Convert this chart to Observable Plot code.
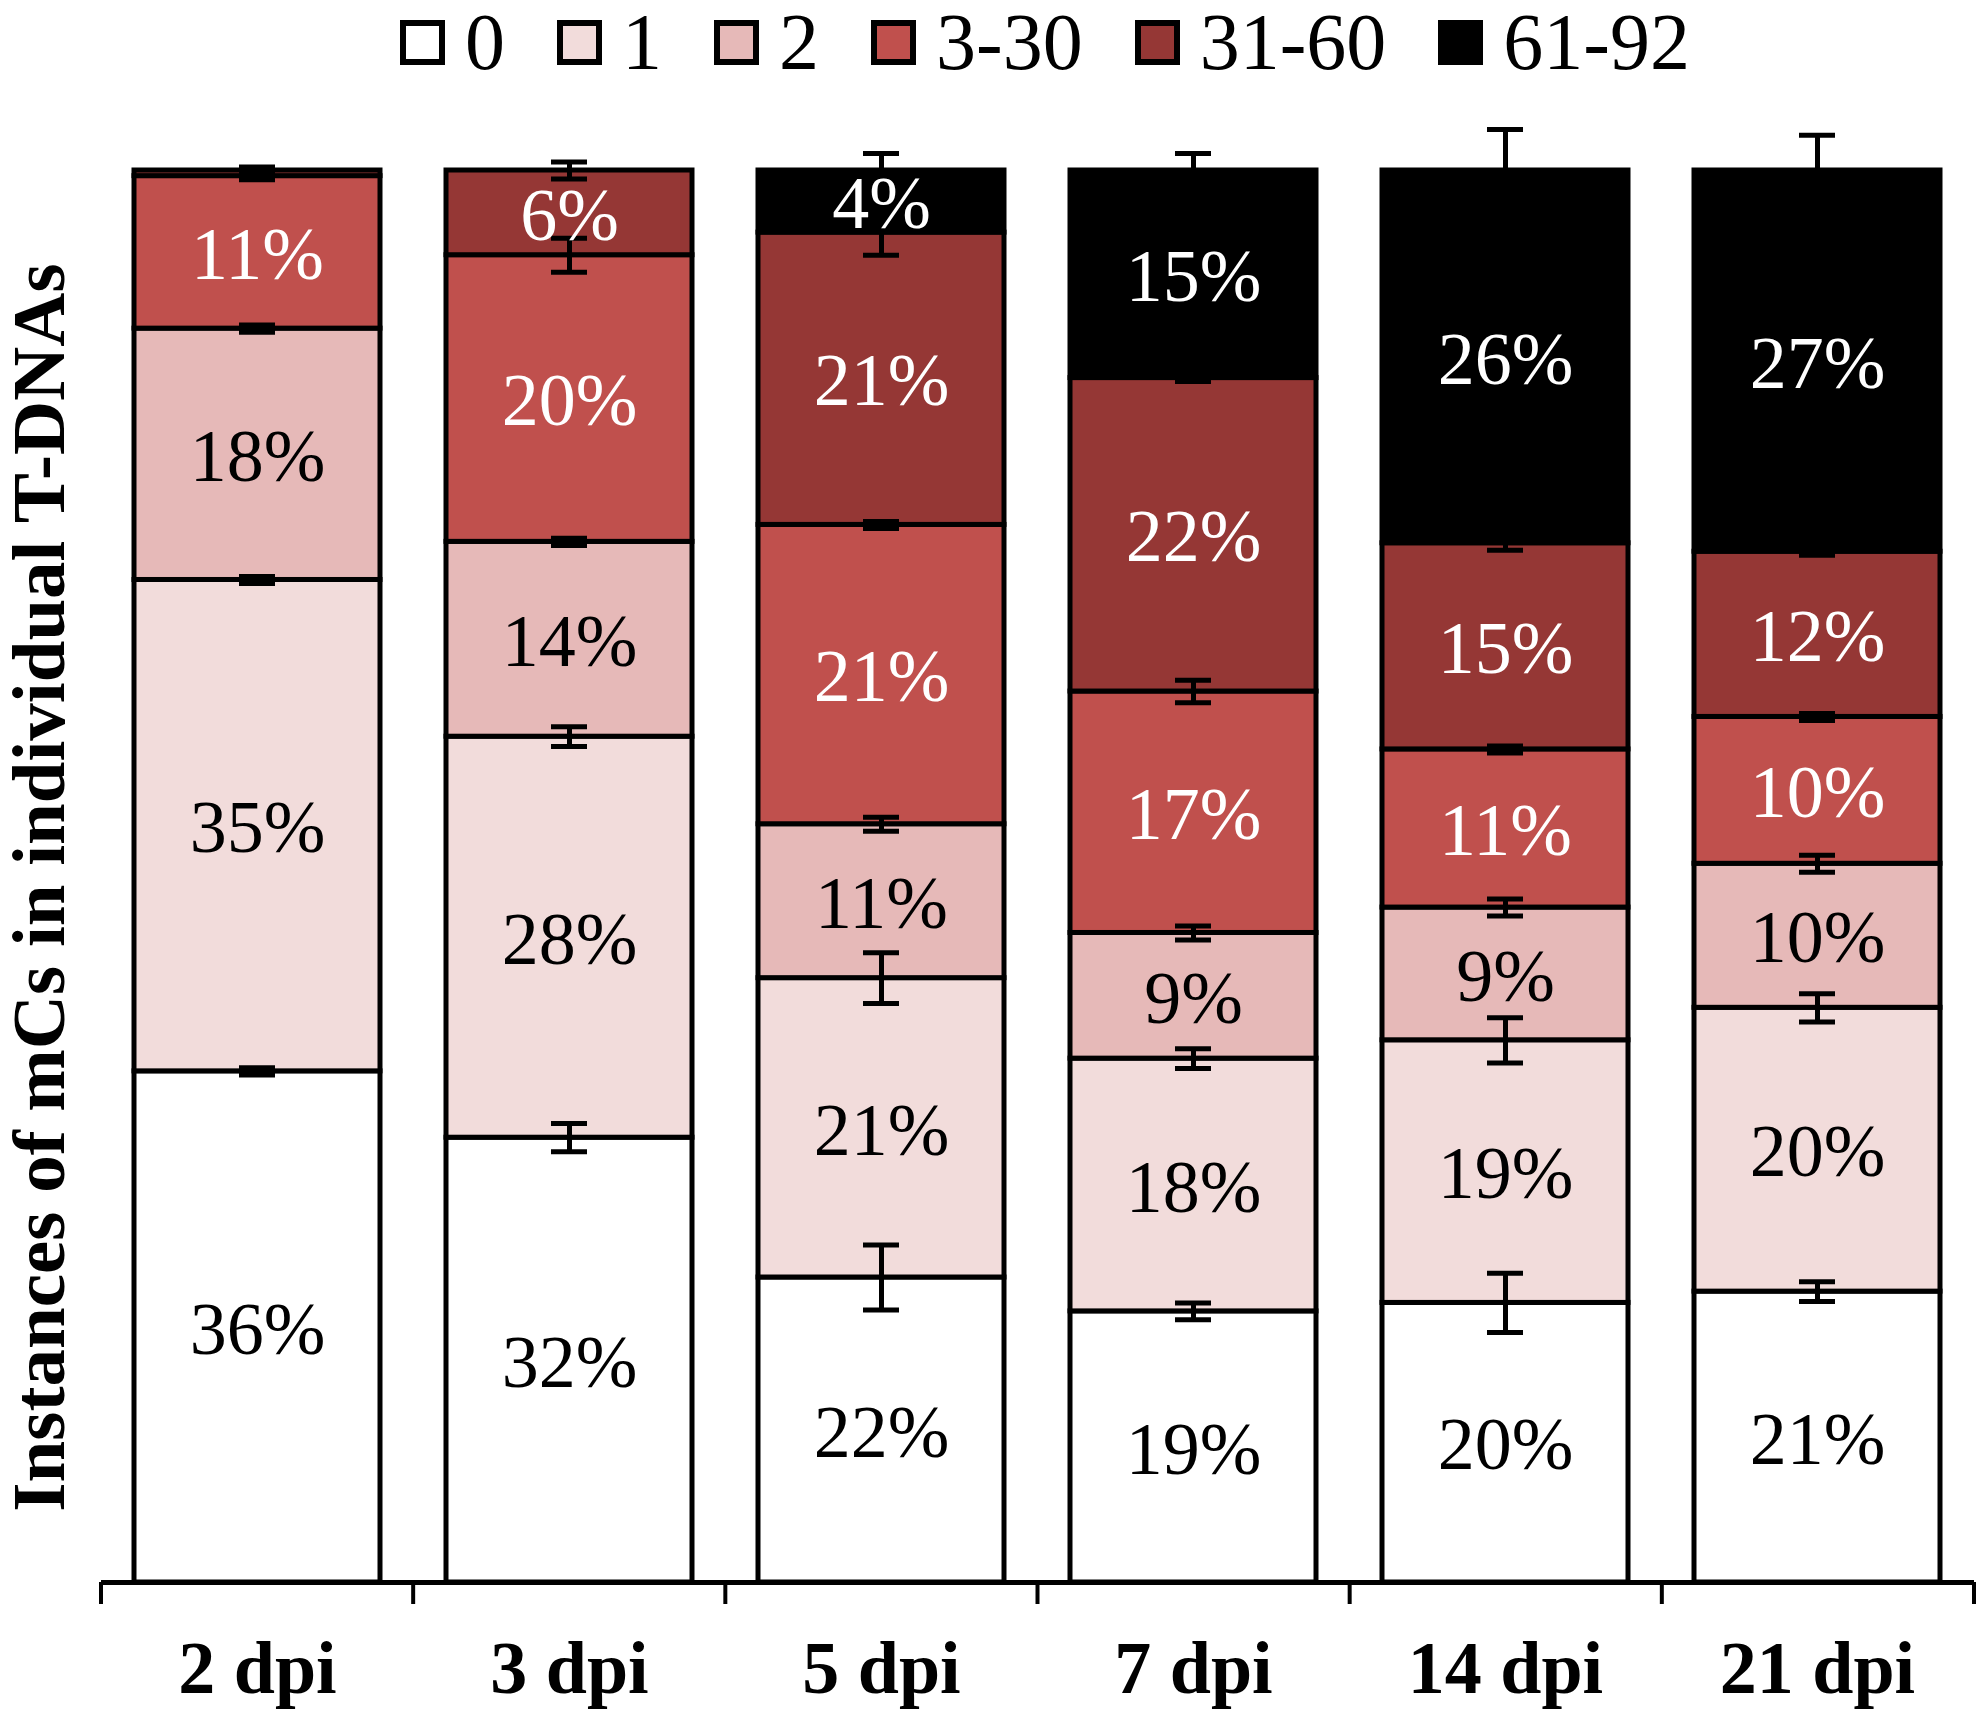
<!DOCTYPE html>
<html>
<head>
<meta charset="utf-8">
<script src="https://cdn.jsdelivr.net/npm/d3@7"></script>
<script src="https://cdn.jsdelivr.net/npm/@observablehq/plot@0.6"></script>
<style>
  html, body { margin: 0; padding: 0; background: #fff; }
  body { width: 1978px; height: 1722px; overflow: hidden; font-family: "Liberation Serif", "Times New Roman", serif; }
  #legend { position: relative; height: 110px; }
  #legend .items { position: absolute; left: 400px; top: 0px; display: flex; align-items: center; font-size: 80px; line-height: 84px; }
  #legend .item { display: flex; align-items: center; margin-right: 52px; }
  #legend .sw { width: 45px; height: 45px; box-sizing: border-box; border: 6px solid #000; margin-right: 20px; }
</style>
</head>
<body>
<div id="legend"><div class="items"></div></div>
<div id="chart"></div>
<script>
const days = ["2 dpi", "3 dpi", "5 dpi", "7 dpi", "14 dpi", "21 dpi"];
const bins = ["0", "1", "2", "3-30", "31-60", "61-92"];
const colors = ["#ffffff", "#f2dcdb", "#e6b9b8", "#c0504d", "#953735", "#000000"];
const darkBins = ["3-30", "31-60", "61-92"];

// percentage of T-DNAs per bin, one array per bin (values over days)
const v0  = [36.2, 31.5, 21.6, 19.2, 19.8, 20.6];
const v1  = [34.8, 28.4, 21.2, 17.9, 18.6, 20.1];
const v2  = [17.8, 13.8, 10.9,  8.9,  9.4, 10.2];
const v3  = [10.8, 20.3, 21.2, 17.1, 11.2, 10.4];
const v4  = [ 0.4,  6.0, 20.7, 22.2, 14.6, 11.7];
const v5  = [ 0.0,  0.0,  4.4, 14.7, 26.4, 27.0];

// error half-widths (percentage points) at the top of each segment
const e0 = [0.25, 1.0, 2.3, 0.6, 2.1, 0.7];
const e1 = [0.25, 0.7, 1.8, 0.7, 1.6, 1.0];
const e2 = [0.25, 0.25, 0.5, 0.5, 0.6, 0.6];
const e3 = [0.25, 1.2, 0.25, 0.8, 0.25, 0.25];
const e4 = [0.25, 0.6, 1.6, 0.25, 0.5, 0.25];
const e5 = [null, null, 1.2, 1.2, 2.9, 2.5];

const values = [v0, v1, v2, v3, v4, v5];
const errors = [e0, e1, e2, e3, e4, e5];

const data = [];
days.forEach((day, i) => bins.forEach((bin, j) => {
  data.push({day, bin, value: values[j][i]});
}));

const errData = [];
days.forEach((day, i) => {
  const tops = d3.cumsum(values.map(v => v[i]));
  bins.forEach((bin, j) => {
    const err = errors[j][i];
    if (err != null && values[j][i] > 0) errData.push({day, bin, top: tops[j], err});
  });
});

// legend
const items = d3.select("#legend .items");
bins.forEach((b, j) => {
  const it = items.append("div").attr("class", "item");
  it.append("div").attr("class", "sw").style("background", colors[j]);
  it.append("span").text(b);
});

const W = 1978, H = 1612;
const fontFamily = "Liberation Serif, Times New Roman, serif";

const boundaryTicks = (index, scales, values, dimensions) => {
  const {width, marginLeft, marginRight, height, marginBottom} = dimensions;
  const y0 = scales.y ? scales.y(0) : height - marginBottom;
  const n = days.length;
  const step = (width - marginLeft - marginRight) / n;
  const g = d3.create("svg:g");
  for (let k = 0; k <= n; k++) {
    const x = marginLeft + k * step;
    g.append("line").attr("x1", x).attr("x2", x).attr("y1", y0).attr("y2", y0 + 22)
      .attr("stroke", "#000").attr("stroke-width", 4);
  }
  return g.node();
};

const plot = Plot.plot({
  width: W,
  height: H,
  marginLeft: 101,
  marginRight: 4,
  marginTop: 60,
  marginBottom: 140,
  style: {fontFamily, background: "#fff", overflow: "visible"},
  x: {domain: days, paddingInner: 0.21, paddingOuter: 0.105},
  y: {domain: [0, 100], axis: null},
  color: {domain: bins, range: colors},
  marks: [
    Plot.barY(data, {x: "day", y: "value", fill: "bin", stroke: "#000", strokeWidth: 5}),
    Plot.ruleX(errData, {x: "day", y1: d => d.top - d.err, y2: d => d.top + d.err, stroke: "#000", strokeWidth: 5}),
    Plot.tickY(errData, {x: "day", y: d => d.top + d.err, stroke: "#000", strokeWidth: 5, insetLeft: 105, insetRight: 105}),
    Plot.tickY(errData, {x: "day", y: d => d.top - d.err, stroke: "#000", strokeWidth: 5, insetLeft: 105, insetRight: 105}),
    Plot.text(data, Plot.stackY({
      x: "day", y: "value", z: "bin",
      text: d => (d.value >= 3 && !darkBins.includes(d.bin)) ? Math.round(d.value) + "%" : "",
      fill: "#000", fontSize: 74, dy: 3
    })),
    Plot.text(data, Plot.stackY({
      x: "day", y: "value", z: "bin",
      text: d => (d.value >= 3 && darkBins.includes(d.bin)) ? Math.round(d.value) + "%" : "",
      fill: "#fff", fontSize: 74, dy: 3
    })),
    Plot.ruleY([0], {stroke: "#000", strokeWidth: 5}),
    boundaryTicks,
    Plot.axisX({tickSize: 0, tickPadding: 58, fontSize: 74, fontWeight: "bold", label: null}),
    Plot.text(["Instances of mCs in individual T-DNAs"], {
      frameAnchor: "left", textAnchor: "middle", lineAnchor: "middle", rotate: -90, dx: -62, dy: 11,
      fontSize: 75, fontWeight: "bold", fill: "#000"
    })
  ]
});
document.getElementById("chart").appendChild(plot);
</script>
</body>
</html>
